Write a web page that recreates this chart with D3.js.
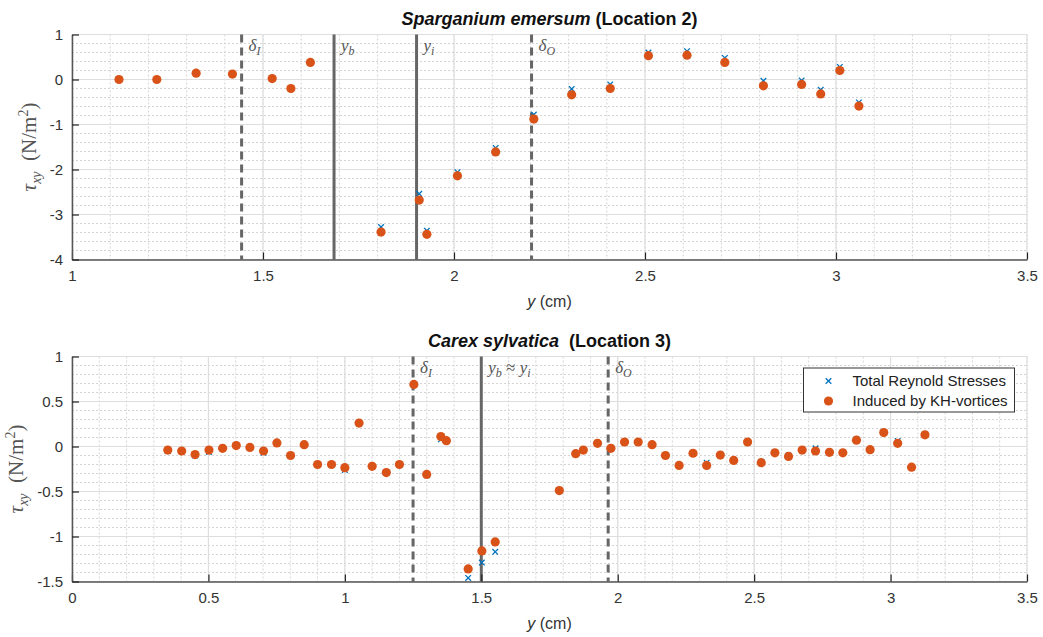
<!DOCTYPE html>
<html>
<head>
<meta charset="utf-8">
<script src="https://cdn.jsdelivr.net/npm/d3@7"></script>
<style>
  body { margin: 0; background: #fff; }
  svg { display: block; }
  .tick text { font-family: "Liberation Sans", Arial, sans-serif; font-size: 15px; fill: #333; }
</style>
</head>
<body>
<svg id="chart" width="1043" height="637"></svg>
<script>
// ---- data: Sparganium emersum (Location 2)
const topY = [1.123, 1.222, 1.325, 1.42, 1.524, 1.573, 1.624, 1.809, 1.909, 1.929, 2.009, 2.109, 2.209, 2.308, 2.409, 2.509, 2.61, 2.709, 2.81, 2.91, 2.96, 3.01, 3.06];
const topKH = [0.0, 0.0, 0.14, 0.12, 0.02, -0.2, 0.38, -3.39, -2.68, -3.44, -2.14, -1.61, -0.88, -0.34, -0.2, 0.53, 0.54, 0.38, -0.14, -0.11, -0.32, 0.2, -0.59];
const topTotal = [0.0, 0.0, 0.14, 0.12, 0.02, -0.2, 0.38, -3.28, -2.54, -3.36, -2.06, -1.52, -0.78, -0.21, -0.11, 0.6, 0.63, 0.48, -0.03, -0.02, -0.23, 0.28, -0.51];
const topXTicks = [1, 1.5, 2, 2.5, 3, 3.5];
const topYTicks = [1, 0, -1, -2, -3, -4];
const topLines = [
  { x: 1.444, dashed: true, name: 'δ', sub: 'I' },
  { x: 1.686, dashed: false, name: 'y', sub: 'b' },
  { x: 1.902, dashed: false, name: 'y', sub: 'i' },
  { x: 2.203, dashed: true, name: 'δ', sub: 'O' }
];

// ---- data: Carex sylvatica (Location 3)
const botY = [0.351, 0.402, 0.451, 0.502, 0.552, 0.602, 0.652, 0.702, 0.751, 0.801, 0.851, 0.90, 0.951, 1.0, 1.052, 1.10, 1.152, 1.20, 1.253, 1.30, 1.352, 1.372, 1.452, 1.502, 1.551, 1.786, 1.846, 1.874, 1.926, 1.975, 2.025, 2.075, 2.126, 2.175, 2.225, 2.276, 2.326, 2.376, 2.425, 2.476, 2.526, 2.576, 2.626, 2.676, 2.725, 2.776, 2.825, 2.875, 2.925, 2.975, 3.026, 3.077, 3.126];
const botKH = [-0.04, -0.05, -0.09, -0.04, -0.02, 0.01, -0.01, -0.05, 0.04, -0.10, 0.02, -0.2, -0.2, -0.235, 0.26, -0.22, -0.29, -0.2, 0.69, -0.31, 0.11, 0.065, -1.36, -1.16, -1.06, -0.49, -0.08, -0.04, 0.035, -0.02, 0.05, 0.05, 0.02, -0.1, -0.21, -0.075, -0.21, -0.095, -0.155, 0.05, -0.18, -0.07, -0.11, -0.04, -0.05, -0.065, -0.07, 0.07, -0.035, 0.155, 0.035, -0.23, 0.13];
const botTotal = [-0.05, -0.05, -0.1, -0.06, -0.02, 0.01, -0.01, -0.07, 0.04, -0.10, 0.02, -0.2, -0.2, -0.26, 0.26, -0.22, -0.29, -0.2, 0.69, -0.32, 0.08, 0.06, -1.46, -1.29, -1.17, -0.49, -0.08, -0.04, 0.035, -0.02, 0.05, 0.05, 0.02, -0.1, -0.21, -0.075, -0.18, -0.095, -0.155, 0.05, -0.17, -0.07, -0.1, -0.04, -0.02, -0.065, -0.07, 0.08, -0.035, 0.155, 0.06, -0.23, 0.13];
const botXTicks = [0, 0.5, 1, 1.5, 2, 2.5, 3, 3.5];
const botYTicks = [1, 0.5, 0, -0.5, -1, -1.5];
const botLines = [
  { x: 1.25, dashed: true, name: 'δ', sub: 'I' },
  { x: 1.5, dashed: false, name: 'y', sub: 'b', extra: true },
  { x: 1.965, dashed: true, name: 'δ', sub: 'O' }
];

const seriesNames = ['Total Reynold Stresses', 'Induced by KH-vortices'];
const BLUE = '#0072BD', ORANGE = '#D95319';
const AXIS = '#555';
const SANS = '"Liberation Sans", Arial, sans-serif';
const SERIF = '"Liberation Serif", "Times New Roman", serif';

const svg = d3.select('#chart');
const LEFT = 72, RIGHT = 1027;

const drawPanel = (cfg) => {
  const x = d3.scaleLinear().domain(cfg.xDomain).range([LEFT, RIGHT]);
  const y = d3.scaleLinear().domain(cfg.yDomain).range([cfg.bottom, cfg.top]);
  const g = svg.append('g');

  // minor grid
  const xMinor = d3.range(Math.round(cfg.xDomain[0] * 10), Math.round(cfg.xDomain[1] * 10) + 1).map(d => d / 10);
  const yMinor = d3.range(Math.round(cfg.yDomain[0] / cfg.yMinorStep), Math.round(cfg.yDomain[1] / cfg.yMinorStep) + 1).map(d => d * cfg.yMinorStep);
  g.append('g').selectAll('line').data(xMinor).enter().append('line')
    .attr('x1', d => x(d)).attr('x2', d => x(d))
    .attr('y1', cfg.top).attr('y2', cfg.bottom)
    .attr('stroke', '#d4d4d4').attr('stroke-width', 1).attr('stroke-dasharray', '2,2');
  g.append('g').selectAll('line').data(yMinor).enter().append('line')
    .attr('x1', LEFT).attr('x2', RIGHT)
    .attr('y1', d => y(d)).attr('y2', d => y(d))
    .attr('stroke', '#d4d4d4').attr('stroke-width', 1).attr('stroke-dasharray', '2,2');

  // major grid
  g.append('g').selectAll('line').data(cfg.xTicks).enter().append('line')
    .attr('x1', d => x(d)).attr('x2', d => x(d))
    .attr('y1', cfg.top).attr('y2', cfg.bottom)
    .attr('stroke', '#dedede').attr('stroke-width', 1.2);
  g.append('g').selectAll('line').data(cfg.yTicks).enter().append('line')
    .attr('x1', LEFT).attr('x2', RIGHT)
    .attr('y1', d => y(d)).attr('y2', d => y(d))
    .attr('stroke', '#dedede').attr('stroke-width', 1.2);

  // vertical marker lines
  cfg.lines.forEach(l => {
    g.append('line')
      .attr('x1', x(l.x)).attr('x2', x(l.x))
      .attr('y1', cfg.top).attr('y2', cfg.bottom)
      .attr('stroke', '#666').attr('stroke-width', 3)
      .attr('stroke-dasharray', l.dashed ? '8,5' : null);
    const t = g.append('text')
      .attr('x', x(l.x) + 7).attr('y', cfg.top + 16)
      .attr('font-family', SERIF).attr('font-size', 17).attr('fill', '#555')
      .attr('font-style', 'italic');
    t.append('tspan').text(l.name);
    t.append('tspan').attr('font-size', 12).attr('dy', 4).text(l.sub);
    if (l.extra) {
      t.append('tspan').attr('dy', -4).attr('font-style', 'normal').text('\u00a0≈\u00a0');
      t.append('tspan').text('y');
      t.append('tspan').attr('font-size', 12).attr('dy', 4).text('i');
    }
  });

  // axes
  const fmt = d => String(d);
  const xAxis = d3.axisBottom(x).tickValues(cfg.xTicks).tickFormat(fmt).tickSizeInner(-7).tickSizeOuter(0).tickPadding(11);
  const yAxis = d3.axisLeft(y).tickValues(cfg.yTicks).tickFormat(fmt).tickSizeInner(-7).tickSizeOuter(0).tickPadding(9);
  const gx = g.append('g').attr('transform', `translate(0,${cfg.bottom})`).call(xAxis);
  const gy = g.append('g').attr('transform', `translate(${LEFT},0)`).call(yAxis);
  [gx, gy].forEach(a => {
    a.select('.domain').attr('stroke', AXIS).attr('stroke-width', 1.5);
    a.selectAll('.tick line').attr('stroke', '#222').attr('stroke-width', 1.2);
    a.selectAll('.tick text').attr('font-family', null).attr('font-size', null);
  });

  // total stresses (blue crosses)
  const s = 2.8;
  g.append('g').selectAll('path').data(cfg.yVals).enter().append('path')
    .attr('d', (d, i) => {
      const cx = x(d), cy = y(cfg.total[i]);
      return `M${cx - s},${cy - s}L${cx + s},${cy + s}M${cx - s},${cy + s}L${cx + s},${cy - s}`;
    })
    .attr('stroke', BLUE).attr('stroke-width', 1.3).attr('fill', 'none');

  // induced by KH-vortices (orange dots)
  g.append('g').selectAll('circle').data(cfg.yVals).enter().append('circle')
    .attr('cx', d => x(d)).attr('cy', (d, i) => y(cfg.kh[i]))
    .attr('r', 4.6).attr('fill', ORANGE);

  // title
  const title = g.append('text')
    .attr('x', (LEFT + RIGHT) / 2).attr('y', cfg.top - 10)
    .attr('text-anchor', 'middle').attr('font-family', SANS)
    .attr('font-size', 18).attr('font-weight', 'bold').attr('fill', '#111');
  title.append('tspan').attr('font-style', 'italic').text(cfg.species);
  title.append('tspan').text(cfg.location);

  // x label
  const xl = g.append('text')
    .attr('x', (LEFT + RIGHT) / 2).attr('y', cfg.bottom + 47)
    .attr('text-anchor', 'middle').attr('font-family', SANS)
    .attr('font-size', 16).attr('fill', '#333');
  xl.append('tspan').attr('font-style', 'italic').text('y');
  xl.append('tspan').text('\u00a0(cm)');

  // y label
  const yl = g.append('text')
    .attr('transform', `translate(${cfg.yLabelX},${(cfg.top + cfg.bottom) / 2}) rotate(-90)`)
    .attr('text-anchor', 'middle').attr('font-family', SERIF)
    .attr('font-size', 21).attr('fill', '#555');
  yl.append('tspan').attr('font-style', 'italic').text('τ');
  yl.append('tspan').attr('font-style', 'italic').attr('font-size', 14).attr('dy', 5).text('xy');
  yl.append('tspan').attr('dy', -5).text('\u00a0\u00a0(N/m');
  yl.append('tspan').attr('font-size', 14).attr('dy', -8).text('2');
  yl.append('tspan').attr('dy', 8).text(')');

  return { g, x, y };
};

drawPanel({
  xDomain: [1, 3.5], yDomain: [-4, 1], top: 34.5, bottom: 259.5, yMinorStep: 0.2,
  xTicks: topXTicks, yTicks: topYTicks, lines: topLines,
  yVals: topY, kh: topKH, total: topTotal,
  species: 'Sparganium emersum', location: '\u00a0(Location 2)', yLabelX: 36
});

const bot = drawPanel({
  xDomain: [0, 3.5], yDomain: [-1.5, 1], top: 356.5, bottom: 581.5, yMinorStep: 0.1,
  xTicks: botXTicks, yTicks: botYTicks, lines: botLines,
  yVals: botY, kh: botKH, total: botTotal,
  species: 'Carex sylvatica', location: '\u00a0\u00a0(Location 3)', yLabelX: 23
});

// legend
const lg = bot.g.append('g').attr('transform', 'translate(803.5,368)');
lg.append('rect').attr('width', 211).attr('height', 44)
  .attr('fill', '#fff').attr('stroke', '#333').attr('stroke-width', 1);
seriesNames.forEach((name, i) => {
  const cy = 13 + i * 20;
  if (i === 0) {
    const s = 2.8, cx = 25;
    lg.append('path')
      .attr('d', `M${cx - s},${cy - s}L${cx + s},${cy + s}M${cx - s},${cy + s}L${cx + s},${cy - s}`)
      .attr('stroke', BLUE).attr('stroke-width', 1.3);
  } else {
    lg.append('circle').attr('cx', 25).attr('cy', cy).attr('r', 4.6).attr('fill', ORANGE);
  }
  lg.append('text').attr('x', 49).attr('y', cy + 5)
    .attr('font-family', SANS).attr('font-size', 15).attr('fill', '#222')
    .text(name);
});
</script>
</body>
</html>
